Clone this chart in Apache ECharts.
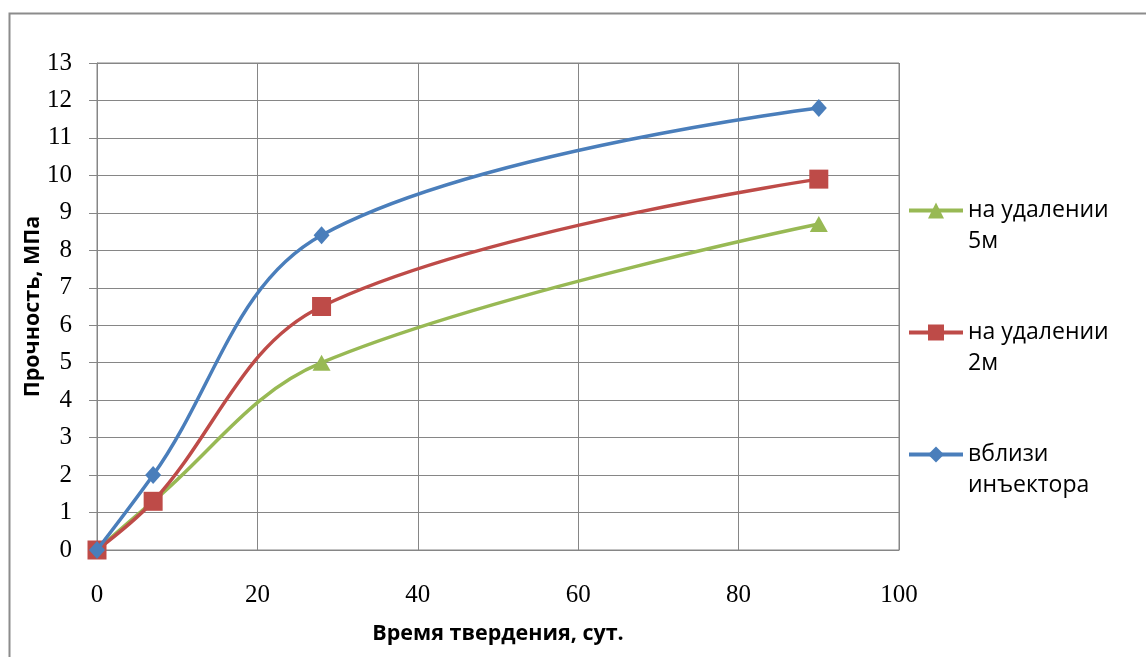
<!DOCTYPE html>
<html>
<head>
<meta charset="utf-8">
<script src="https://cdn.jsdelivr.net/npm/echarts@6/dist/echarts.min.js"></script>
<style>
html,body{margin:0;padding:0;background:#fff;}
#chart{width:1146px;height:657px;}
</style>
</head>
<body>
<div id="chart"></div>
<script>
// Data
const xDays = [0, 7, 28, 90];
const seriesNames = ['на удалении 5м', 'на удалении 2м', 'вблизи инъектора'];
const legendLines = [['на удалении', '5м'], ['на удалении', '2м'], ['вблизи', 'инъектора']];
const green5m = [0, 1.3, 5.0, 8.7];
const red2m = [0, 1.3, 6.5, 9.9];
const blueNear = [0, 2.0, 8.4, 11.8];

const chart = echarts.init(document.getElementById('chart'));
const pair = arr => xDays.map((x, i) => [x, arr[i]]);
const tickFont = { fontFamily: 'Liberation Serif', fontSize: 25, color: '#000' };
const titleFont = { fontFamily: 'Open Sans', fontSize: 21.5, fontWeight: 'bold', color: '#000' };
const SMOOTH = 0.36;

chart.setOption({
  animation: false,
  backgroundColor: '#fff',
  graphic: [{
    type: 'rect', silent: true,
    shape: { x: 9.5, y: 13.5, width: 1200, height: 700 },
    style: { fill: 'none', stroke: '#8c8c8c', lineWidth: 2 }
  }],
  grid: { left: 97, top: 63, width: 802, height: 487, show: true, borderColor: '#868686', borderWidth: 1 },
  xAxis: {
    type: 'value', min: 0, max: 100, interval: 20,
    name: 'Время твердения, сут.', nameLocation: 'middle', nameGap: 73, nameMoveOverlap: false,
    nameTextStyle: titleFont,
    axisLine: { lineStyle: { color: '#868686', width: 1 } },
    axisTick: { show: false },
    axisLabel: Object.assign({ margin: 33 }, tickFont),
    splitLine: { show: true, lineStyle: { color: '#868686', width: 1 } }
  },
  yAxis: {
    type: 'value', min: 0, max: 13, interval: 1,
    name: 'Прочность, МПа', nameLocation: 'middle', nameGap: 53, nameRotate: 90, nameMoveOverlap: false,
    nameTextStyle: titleFont,
    axisLine: { show: true, lineStyle: { color: '#868686', width: 1 } },
    axisTick: { show: true, inside: false, length: 8, lineStyle: { color: '#868686' } },
    axisLabel: Object.assign({ margin: 25 }, tickFont),
    splitLine: { show: true, lineStyle: { color: '#868686', width: 1 } }
  },
  legend: {
    orient: 'vertical', left: 907, top: 164, padding: 0,
    itemWidth: 54, itemHeight: 20, itemGap: 29,
    data: seriesNames,
    formatter: name => {
      const l = legendLines[seriesNames.indexOf(name)];
      return ' \n' + l[0] + '\n' + l[1];
    },
    lineStyle: { width: 4 },
    textStyle: { fontFamily: 'Open Sans', fontSize: 23, color: '#000', lineHeight: 31 }
  },
  series: [
    { name: seriesNames[2], type: 'line', data: pair(blueNear), smooth: SMOOTH,
      symbol: 'diamond', symbolSize: [16, 18], color: '#4A7EBB',
      lineStyle: { width: 3.5, color: '#4A7EBB' }, itemStyle: { color: '#4A7EBB' }, z: 3 },
    { name: seriesNames[1], type: 'line', data: pair(red2m), smooth: SMOOTH,
      symbol: 'rect', symbolSize: 19, color: '#BE4B48',
      lineStyle: { width: 3.5, color: '#BE4B48' }, itemStyle: { color: '#BE4B48' }, z: 2 },
    { name: seriesNames[0], type: 'line', data: pair(green5m), smooth: SMOOTH,
      symbol: 'triangle', symbolSize: [18, 16], color: '#98B954',
      lineStyle: { width: 3.5, color: '#98B954' }, itemStyle: { color: '#98B954' }, z: 1 }
  ]
});
</script>
</body>
</html>
